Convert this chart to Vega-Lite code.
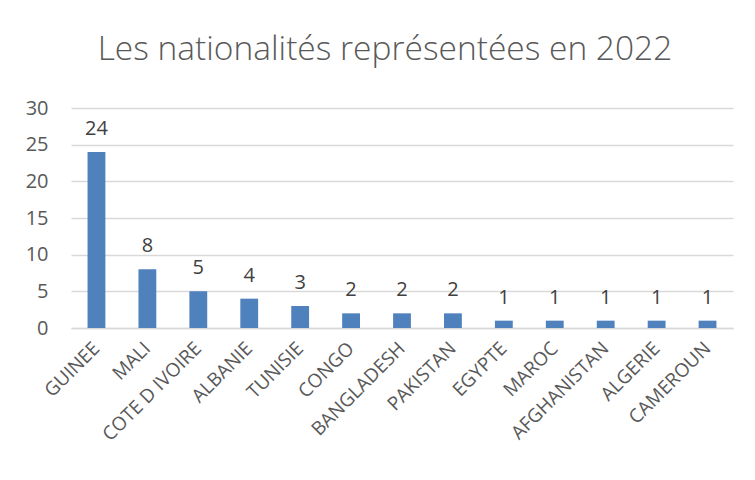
{
  "$schema": "https://vega.github.io/schema/vega-lite/v6.json",
  "autosize": "none",
  "width": 662,
  "height": 220,
  "padding": {"left": 71, "top": 108, "right": 22, "bottom": 152},
  "background": "white",
  "title": {
    "text": "Les nationalités représentées en 2022",
    "fontSize": 33.5,
    "font": "Open Sans",
    "fontWeight": 300,
    "color": "#595959",
    "anchor": "middle",
    "dx": -17,
    "offset": 31
  },
  "data": {
    "values": [
      {"pays": "GUINEE", "n": 24},
      {"pays": "MALI", "n": 8},
      {"pays": "COTE D IVOIRE", "n": 5},
      {"pays": "ALBANIE", "n": 4},
      {"pays": "TUNISIE", "n": 3},
      {"pays": "CONGO", "n": 2},
      {"pays": "BANGLADESH", "n": 2},
      {"pays": "PAKISTAN", "n": 2},
      {"pays": "EGYPTE", "n": 1},
      {"pays": "MAROC", "n": 1},
      {"pays": "AFGHANISTAN", "n": 1},
      {"pays": "ALGERIE", "n": 1},
      {"pays": "CAMEROUN", "n": 1}
    ]
  },
  "encoding": {
    "x": {
      "field": "pays",
      "type": "nominal",
      "sort": null,
      "scale": {"paddingInner": 0.65, "paddingOuter": 0.325},
      "axis": {
        "title": null,
        "labelAngle": -45,
        "labelAlign": "right",
        "labelBaseline": "middle",
        "labelFontSize": 19,
        "labelFont": "Open Sans",
        "labelColor": "#595959",
        "labelPadding": 17,
        "labelOverlap": false,
        "ticks": false,
        "domain": true,
        "domainColor": "#d9d9d9",
        "domainWidth": 1.5
      }
    },
    "y": {
      "field": "n",
      "type": "quantitative",
      "scale": {"domain": [0, 30], "nice": false},
      "axis": {
        "title": null,
        "values": [0, 5, 10, 15, 20, 25, 30],
        "labelFontSize": 20,
        "labelFont": "Open Sans",
        "labelColor": "#595959",
        "labelPadding": 23,
        "ticks": false,
        "domain": false,
        "grid": true,
        "gridColor": "#d9d9d9",
        "gridWidth": 1.5
      }
    }
  },
  "layer": [
    {"mark": {"type": "bar", "color": "#4F81BD"}},
    {
      "mark": {"type": "text", "baseline": "alphabetic", "dy": -17, "fontSize": 20, "font": "Open Sans", "color": "#404040"},
      "encoding": {"text": {"field": "n", "type": "quantitative"}}
    }
  ],
  "config": {"view": {"stroke": null}}
}
